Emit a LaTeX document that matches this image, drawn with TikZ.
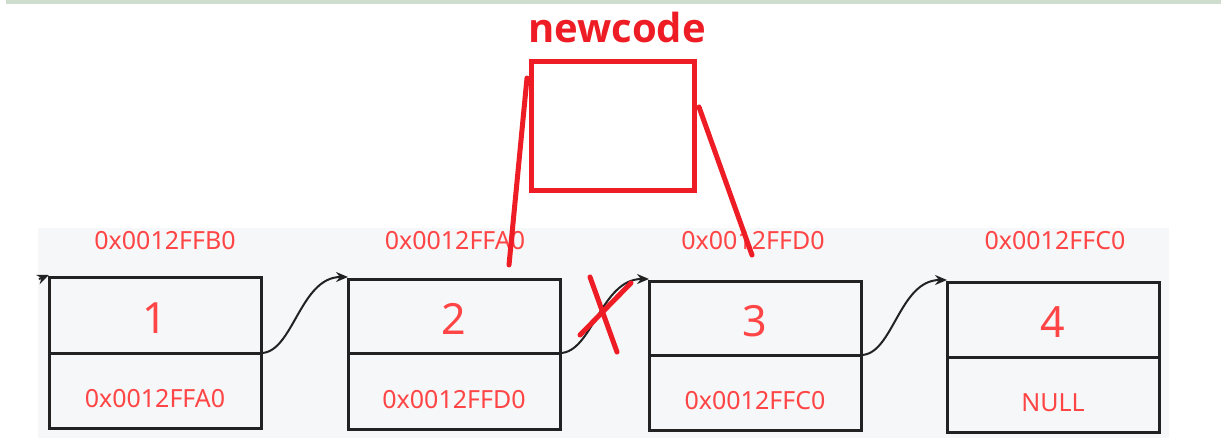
\documentclass[tikz,border=0pt]{standalone}
\usepackage{fontspec}
\setmainfont{Noto Sans}
\newfontfamily\boldfont{Open Sans}
\usetikzlibrary{arrows.meta}
\definecolor{lbl}{HTML}{FF4545}
\definecolor{mark}{HTML}{EE1C25}
\definecolor{bg}{HTML}{F6F7F9}
\definecolor{band}{HTML}{CFDDCF}
\definecolor{edge}{HTML}{222222}
\tikzset{
  cell/.style={draw=edge, line width=3pt, outer sep=0pt, minimum width=212pt, inner sep=0pt, anchor=north west, font=\fontsize{43}{43}\selectfont, text=lbl, text height=36pt, text depth=0pt},
  lowcell/.style={cell, font=\fontsize{25}{25}\selectfont, text height=34pt},
  addr/.style={text=lbl, font=\fontsize{25}{25}\selectfont, inner sep=0pt},
  link/.style={draw=edge, line width=2pt, -{Stealth[length=12pt,width=10pt]}},
  redstroke/.style={draw=mark, line width=5pt, line cap=round}
}
\begin{document}
\begin{tikzpicture}[x=1pt,y=-1pt]
\useasboundingbox (0,0) rectangle (1221,439);
\fill[white] (0,0) rectangle (1221,439);
\fill[band] (6,0) rectangle (1221,4);
\fill[bg] (38,228) rectangle (1169,438);
% cells
\node[cell, minimum height=76pt] (t1) at (49,277) {1};
\node[lowcell, minimum height=75pt] (b1) at (t1.south west) {0x0012FFA0};
\node[cell, minimum height=74pt] (t2) at (348,279) {2};
\node[lowcell, minimum height=76pt] (b2) at (t2.south west) {0x0012FFD0};
\node[cell, minimum height=74pt] (t3) at (649,281) {3};
\node[lowcell, minimum height=75pt] (b3) at (t3.south west) {0x0012FFC0};
\node[cell, minimum height=75pt] (t4) at (947,282) {4};
\node[lowcell, minimum height=75pt] (b4) at (t4.south west) {NULL};
% addresses
\node[addr] (a1) at (165,241) {0x0012FFB0};
\node[addr] (a2) at (455,241) {0x0012FFA0};
\node[addr] (a3) at (753,241) {0x0012FFD0};
\node[addr] (a4) at (1055,241) {0x0012FFC0};
% links
\coordinate (in) at (39,279);
\draw[link] (in) -- ([yshift=2pt]t1.north west);
\draw[link] (t1.south east) .. controls +(32,0) and +(-48,0) .. ([yshift=2pt]t2.north west);
\draw[link] (t2.south east) .. controls +(32,0) and +(-48,0) .. ([yshift=2pt]t3.north west);
\draw[link] (t3.south east) .. controls +(32,0) and +(-48,0) .. ([yshift=2pt]t4.north west);
% newcode
\node[draw=mark, line width=5pt, minimum width=163pt, minimum height=129pt, anchor=north west, inner sep=0pt] (nc) at (529,59) {};
\node[text=mark, font=\boldfont\bfseries\fontsize{40}{40}\selectfont, inner sep=0pt] (nct) at (617,27) {newcode};
\draw[redstroke] (527,78) -- (509,265);
\draw[redstroke] (699,107) -- (752,255);
\draw[redstroke] (590,277) -- (617,352);
\draw[redstroke] (580,335) -- (631,283);
\end{tikzpicture}
\end{document}
